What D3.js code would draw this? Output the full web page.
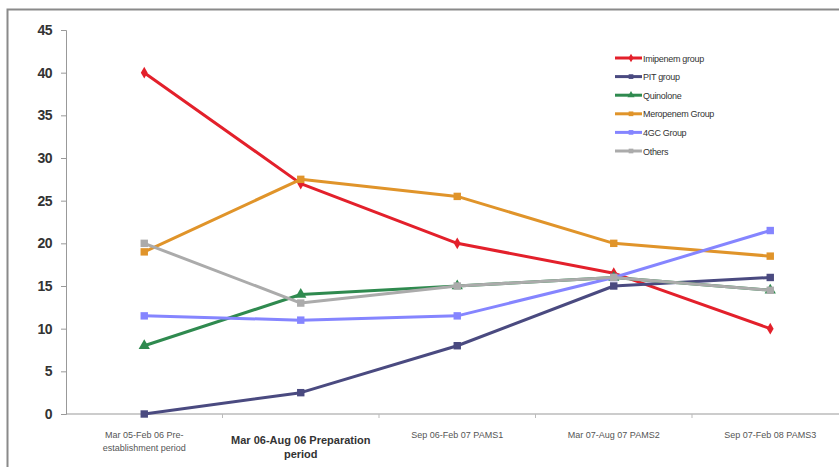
<!DOCTYPE html>
<html>
<head>
<meta charset="utf-8">
<script src="https://cdn.jsdelivr.net/npm/d3@7"></script>
<style>
  html, body { margin: 0; background: #fff; overflow: hidden; }
  svg { font-family: "Liberation Sans", Arial, sans-serif; display: block; }
</style>
</head>
<body>
<svg></svg>
<script>
var periods = [
  ["Mar 05-Feb 06 Pre-", "establishment period"],
  ["Mar 06-Aug 06 Preparation", "period"],
  ["Sep 06-Feb 07 PAMS1"],
  ["Mar 07-Aug 07 PAMS2"],
  ["Sep 07-Feb 08 PAMS3"]
];
var seriesNames = ["Imipenem group", "PIT group", "Quinolone", "Meropenem Group", "4GC Group", "Others"];
var imipenem = [40, 27, 20, 16.5, 10];
var pit = [0, 2.5, 8, 15, 16];
var quinolone = [8, 14, 15, 16, 14.5];
var meropenem = [19, 27.5, 25.5, 20, 18.5];
var fourGC = [11.5, 11, 11.5, 16, 21.5];
var others = [20, 13, 15, 16, 14.5];
var yTicks = [0, 5, 10, 15, 20, 25, 30, 35, 40, 45];

var colors = ["#e3202b", "#4a4a80", "#2f8a4f", "#e0942a", "#8585ff", "#ababab"];
var shapes = [d3.symbolDiamond, d3.symbolSquare, d3.symbolTriangle, d3.symbolSquare, d3.symbolSquare, d3.symbolSquare];
var allValues = [imipenem, pit, quinolone, meropenem, fourGC, others];

var W = 839, H = 467;
var svg = d3.select('svg').attr('width', W).attr('height', H);

// frame, only left and top edges are visible
svg.append('path').attr('d', 'M7.5,' + H + 'V9.5H' + W)
  .attr('fill', 'none').attr('stroke', '#8a8a8a').attr('stroke-width', 2);

var m = {left: 66, top: 30, bottom: 414};
var step = 156.5;
var x = d3.scaleBand().domain(d3.range(periods.length)).range([m.left, m.left + step * periods.length]);
var y = d3.scaleLinear().domain([0, 45]).range([m.bottom, m.top]);

// y axis
var yAxis = svg.append('g').attr('transform', 'translate(' + m.left + ',0)')
  .call(d3.axisLeft(y).tickValues(yTicks).tickSize(5).tickPadding(9));
yAxis.select('.domain').attr('stroke', '#999');
yAxis.selectAll('.tick line').attr('stroke', '#999');
yAxis.selectAll('.tick text').attr('font-size', 14).attr('fill', '#333').attr('font-weight', 'bold')
  .style('letter-spacing', '-0.5px');

// x axis
var xAxis = svg.append('g').attr('transform', 'translate(0,' + m.bottom + ')');
xAxis.append('line').attr('x1', m.left).attr('x2', W).attr('stroke', '#999');
xAxis.selectAll('.xt').data(d3.range(1, periods.length)).enter().append('line')
  .attr('x1', d => x(d)).attr('x2', d => x(d)).attr('y1', 0).attr('y2', 4).attr('stroke', '#bbb');

var labels = svg.append('g').selectAll('text').data(periods).enter().append('text')
  .attr('x', (d, i) => x(i) + x.bandwidth() / 2)
  .attr('text-anchor', 'middle')
  .attr('font-size', (d, i) => i === 1 ? 11 : 9)
  .attr('font-weight', (d, i) => i === 1 ? 'bold' : 'normal')
  .attr('fill', (d, i) => i === 1 ? '#333' : '#555');
labels.each(function(d, i){
  var t = d3.select(this);
  d.forEach(function(line, j){
    t.append('tspan').attr('x', x(i) + x.bandwidth() / 2)
      .attr('y', (i === 1 ? 444 : 438) + j * (i === 1 ? 14 : 13))
      .text(line);
  });
});

var line = d3.line().x((d, i) => x(i) + x.bandwidth() / 2).y(d => y(d));

allValues.forEach(function(vals, s){
  var g = svg.append('g');
  g.append('path').datum(vals).attr('d', line).attr('fill', 'none')
    .attr('stroke', colors[s]).attr('stroke-width', 3).attr('stroke-linejoin', 'round');
  g.selectAll('path.mk').data(vals).enter().append('path').attr('class', 'mk')
    .attr('transform', (d, i) => 'translate(' + (x(i) + x.bandwidth() / 2) + ',' + y(d) + ')')
    .attr('d', d3.symbol().type(shapes[s]).size(s === 0 ? 40 : 55))
    .attr('fill', colors[s]);
});

// legend
var legend = svg.append('g').attr('transform', 'translate(615,58)');
seriesNames.forEach(function(name, i){
  var row = legend.append('g').attr('transform', 'translate(0,' + (i * 18.6) + ')');
  row.append('line').attr('x1', 0).attr('x2', 27).attr('stroke', colors[i]).attr('stroke-width', 3);
  row.append('path').attr('transform', 'translate(16,0)')
    .attr('d', d3.symbol().type(shapes[i]).size(22)).attr('fill', colors[i]);
  row.append('text').attr('x', 28).attr('y', 3.5).attr('font-size', 9).attr('fill', '#333')
    .style('letter-spacing', '-0.3px').text(name);
});
</script>
</body>
</html>
